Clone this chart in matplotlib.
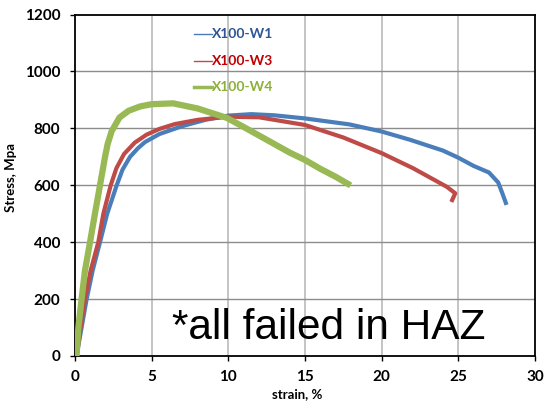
import matplotlib
matplotlib.use("Agg")
import matplotlib.pyplot as plt

# values (strain in %, stress in MPa)
w1_strain = [0.1, 0.43, 0.76, 1.15, 1.63, 2.1, 2.72, 3.1, 3.59, 4.1, 4.57, 5.5, 7.0, 8.5,
             10.0, 11.5, 13.0, 15.0, 17.9, 20.0, 21.85, 24.0, 25.0, 26.0, 27.0, 27.6,
             27.85, 28.1]
w1_stress = [0, 100, 200, 300, 400, 500, 600, 655, 700, 730, 752, 780, 808, 830,
             845, 850, 846, 835, 814, 789, 760, 722, 697, 668, 645, 610,
             575, 538]

w3_strain = [0.1, 0.37, 0.65, 1.02, 1.52, 1.85, 2.33, 2.7, 3.2, 3.9, 4.67, 5.5, 6.5, 8.0,
             10.0, 12.0, 15.0, 17.5, 20.0, 22.05, 24.24, 24.8, 24.6]
w3_stress = [0, 100, 200, 300, 400, 500, 600, 660, 710, 750, 778, 798, 815, 830,
             841, 839, 812, 768, 713, 660, 595, 572, 548]

w4_strain = [0.1, 0.22, 0.43, 0.65, 0.98, 1.3, 1.63, 1.96, 2.13, 2.39, 2.9, 3.5, 4.24,
             5.0, 6.4, 8.0, 9.9, 11.0, 12.5, 14.0, 15.0, 16.0, 17.0, 17.8]
w4_stress = [0, 100, 200, 300, 400, 500, 600, 700, 745, 790, 838, 862, 877,
             885, 888, 870, 837, 805, 760, 715, 689, 658, 630, 605]

series_names = ["X100-W1", "X100-W3", "X100-W4"]
line_colors = ["#4A7EBB", "#BE4B48", "#98B954"]
text_colors = ["#2F5597", "#C00000", "#8DB03A"]

x_ticks = [0, 5, 10, 15, 20, 25, 30]
y_ticks = [0, 200, 400, 600, 800, 1000, 1200]

plt.rcParams["font.family"] = ["Lato", "DejaVu Sans"]

fig = plt.figure(figsize=(5.45, 4.05), dpi=100)
ax = fig.add_axes([0.1376, 0.121, 0.844, 0.843])

ax.plot(w1_strain, w1_stress, color=line_colors[0], linewidth=3.0, solid_joinstyle="round", zorder=3)
ax.plot(w3_strain, w3_stress, color=line_colors[1], linewidth=3.0, solid_joinstyle="round", zorder=4)
ax.plot(w4_strain, w4_stress, color=line_colors[2], linewidth=4.5, solid_joinstyle="round", zorder=5)

ax.set_xlim(0, 30)
ax.set_ylim(0, 1200)
ax.set_xticks(x_ticks)
ax.set_yticks(y_ticks)

for x in x_ticks[1:-1]:
    ax.axvline(x, color="#BFBFBF", linewidth=1.3, zorder=1)
for y in y_ticks[1:-1]:
    ax.axhline(y, color="#8C8C8C", linewidth=1.0, zorder=1)

for spine in ax.spines.values():
    spine.set_color("black")
    spine.set_linewidth(1.3)

ax.tick_params(direction="out", length=3.5, width=1, labelsize=11)
ax.tick_params(axis="y", pad=7)
ax.tick_params(axis="x", pad=6.5)
for lab in ax.get_xticklabels() + ax.get_yticklabels():
    lab.set_fontweight("bold")

fig.text(297 / 545, 1 - 394 / 405, "strain, %", fontsize=9.5, fontweight="bold",
         ha="center", va="center")
fig.text(11 / 545, 1 - 177 / 405, "Stress, Mpa", fontsize=9.5, fontweight="bold",
         ha="center", va="center", rotation=90)

# legend drawn as coloured text with a short line sample
legend_y = [1132, 1037, 945]
for name, lc, tc, ly, lw in zip(series_names, line_colors, text_colors, legend_y, [1.0, 1.0, 2.5]):
    ax.plot([7.76, 8.94], [ly, ly], color=lc, linewidth=lw, zorder=6)
    ax.text(8.94, ly, name, color=tc, fontsize=10, fontweight="bold", va="center", ha="left", zorder=6)

ax.text(6.33, 60, "*all failed in HAZ", fontsize=30.5, family="Liberation Sans",
        color="black", ha="left", va="baseline", zorder=7)

fig.savefig("out.png", dpi=100)
